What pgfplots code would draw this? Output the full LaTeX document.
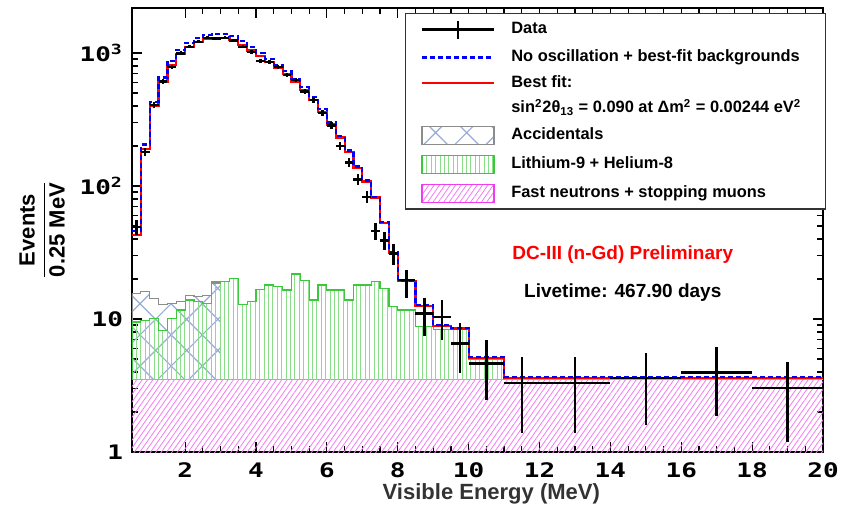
\documentclass[border=0pt]{standalone}
\usepackage{fontspec}
\setmainfont{Liberation Sans}
\newfontfamily\tickfont[FakeStretch=1.3]{DejaVu Sans Mono}
\usepackage{amsmath}
\usepackage{pgfplots}
\pgfplotsset{compat=1.18}
\usepackage{pgfplotstable}
\usetikzlibrary{patterns.meta}

\definecolor{hblue}{RGB}{0,0,255}
\definecolor{hred}{RGB}{255,0,0}
\definecolor{ligreen}{RGB}{60,200,60}
\definecolor{fnmag}{RGB}{240,60,240}
\definecolor{fnlight}{RGB}{245,120,245}
\definecolor{accblue}{RGB}{150,172,215}
\definecolor{accgray}{RGB}{140,140,140}

\tikzset{
  fnpat/.style={pattern={Lines[angle=55,distance=2.2pt,line width=0.4pt]}, pattern color=fnlight},
  lipat/.style={pattern={Lines[angle=90,distance=2.2pt,line width=0.4pt]}, pattern color=ligreen!60},
  accpat/.style={pattern={Hatch[angle=45,distance=11pt,line width=0.6pt]}, pattern color=accblue},
}

% data: bin centre, value, half bin width, error up, error down
\pgfplotstableread{
x y ex eyp eym
0.625 49 0.125 6.5 6.5
0.875 181 0.125 13 13
1.125 406 0.125 20 20
1.375 609 0.125 25 25
1.625 789 0.125 28 28
1.875 995 0.125 32 32
2.125 1115 0.125 33 33
2.375 1216 0.125 35 35
2.625 1300 0.125 36 36
2.875 1290 0.125 36 36
3.125 1300 0.125 36 36
3.375 1238 0.125 35 35
3.625 1115 0.125 33 33
3.875 1023 0.125 32 32
4.125 871 0.125 30 30
4.375 860 0.125 29 29
4.625 789 0.125 28 28
4.875 683 0.125 26 26
5.125 626 0.125 25 25
5.375 512 0.125 23 23
5.625 443 0.125 21 21
5.875 354 0.125 19 19
6.125 285 0.125 17 17
6.375 200 0.125 14 14
6.625 150 0.125 12 12
6.875 112 0.125 11 11
7.125 83 0.125 9 9
7.375 46 0.125 7 7
7.625 39 0.125 6 6
7.875 31 0.125 5.5 5.5
8.25 19.7 0.25 3.7 5.4
8.75 11.0 0.25 3.3 3.6
9.25 10.4 0.25 3.5 3.45
9.75 6.56 0.25 2.7 2.66
10.5 4.64 0.5 2.3 2.2
11.5 3.3 0.5 1.85 1.9
13 3.3 1.0 1.85 1.9
15 3.6 1.0 2.0 2.0
17 3.95 1.0 2.2 2.1
19 3.03 1.0 1.75 1.85
}\datatab

% histograms: left bin edge, value (last point closes the last bin)
\pgfplotstableread{
x y
0.5 43
0.75 190
1.0 398
1.25 610
1.5 810
1.75 985
2.0 1110
2.25 1210
2.5 1275
2.75 1300
3.0 1295
3.25 1250
3.5 1150
3.75 1045
4.0 945
4.25 855
4.5 775
4.75 695
5.0 610
5.25 528
5.5 445
5.75 362
6.0 290
6.25 232
6.5 180
6.75 137
7.0 108
7.25 82
7.5 53
7.75 31.5
8.0 19.3
8.5 12.6
9.0 8.9
9.5 8.5
10.0 5.1
11.0 3.6
20.0 3.6
}\besttab

\pgfplotstableread{
x y
0.5 46
0.75 205
1.0 428
1.25 655
1.5 870
1.75 1058
2.0 1192
2.25 1298
2.5 1365
2.75 1390
3.0 1385
3.25 1335
3.5 1225
3.75 1110
4.0 1002
4.25 904
4.5 818
4.75 732
5.0 640
5.25 553
5.5 465
5.75 377
6.0 300
6.25 239
6.5 185
6.75 140
7.0 110
7.25 83
7.5 53.5
7.75 31.8
8.0 19.5
8.5 12.8
9.0 9.0
9.5 8.6
10.0 5.2
11.0 3.65
20.0 3.65
}\noosctab

\pgfplotstableread{
x y
0.5 3.5
0.5 9.5
0.75 9.8
1.0 10.1
1.25 8.2
1.5 10.1
1.75 11.7
2.0 13.9
2.25 13.5
2.5 13.1
2.75 18.6
3.0 19.1
3.25 20.2
3.5 12.8
3.75 13.5
4.0 16.7
4.25 18.0
4.5 17.5
4.75 16.5
5.0 21.8
5.25 19.6
5.5 13.9
5.75 18.0
6.0 16.5
6.25 16.5
6.5 13.9
6.75 18.0
7.0 18.0
7.25 19.1
7.5 17.0
7.75 12.4
8.0 11.7
8.25 11.7
8.5 8.8
8.75 8.8
9.0 8.3
9.25 8.3
9.5 8.3
9.75 8.3
10.0 5.0
11.0 5.0
11.0 3.5
}\litab

\pgfplotstableread{
x y
0.5 3.5
0.5 15.6
0.75 16.0
1.0 14.3
1.25 12.8
1.5 13.0
1.75 13.5
2.0 15.1
2.25 14.8
2.5 15.1
2.75 19.0
3.0 19.0
3.0 3.5
}\acctab

\begin{document}
\begin{tikzpicture}
\begin{axis}[
  scale only axis,
  width=345.5pt, height=222pt,
  ymode=log,
  xmin=0.5, xmax=20, ymin=1, ymax=2180,
  axis line style={black, line width=0.8pt},
  tick style={black, line width=0.6pt},
  major tick length=5pt, minor tick length=3pt,
  tick align=inside,
  xtick pos=both, ytick pos=both,
  xtick={2,4,6,8,10,12,14,16,18,20},
  xticklabels={2,4,6,8,10,12,14,16,18,20},
  minor x tick num=3,
  ytick={1,10,100,1000},
  yticklabels={1,10,10\textsuperscript{2},10\textsuperscript{3}},
  xticklabel style={font=\tickfont\bfseries\fontsize{10}{12}\selectfont, yshift=-2pt},
  yticklabel style={font=\tickfont\bfseries\fontsize{10}{12}\selectfont, xshift=-1pt},
  xlabel={Visible Energy (MeV)},
  xlabel style={at={(rel axis cs:0.52,-0.0946)}, anchor=center, font=\bfseries\fontsize{11}{13}\selectfont, text=black!80},
  ylabel={$\displaystyle\frac{\mbox{\bfseries Events}}{\mbox{\bfseries 0.25 MeV}}$},
  ylabel style={at={(rel axis cs:-0.13,0.5)}, anchor=center, font=\fontsize{11}{13}\selectfont},
  legend cell align=left,
  legend style={at={(rel axis cs:0.395,0.989)}, anchor=north west,
    draw=black!80, line width=0.6pt, fill=white,
    font=\bfseries\fontsize{8.2}{9.5}\selectfont,
    inner xsep=7.5pt, inner ysep=3pt, row sep=4.8pt, column sep=8pt,
    nodes={inner sep=0pt, text height=6pt, text depth=2pt}},
]
\addlegendimage{legend image code/.code={
  \draw[black,line width=1.2pt] (0pt,0pt)--(36pt,0pt);
  \draw[black,line width=1.2pt] (18pt,-4.5pt)--(18pt,4.5pt);}}
\addlegendentry{Data}
\addlegendimage{legend image code/.code={
  \draw[hblue,line width=1.2pt,dash pattern=on 2.5pt off 1.5pt] (0pt,0pt)--(36pt,0pt);}}
\addlegendentry{No oscillation + best-fit backgrounds\hspace*{5.5pt}}
\addlegendimage{legend image code/.code={
  \draw[hred,line width=1.4pt] (0pt,0pt)--(36pt,0pt);}}
\addlegendentry{Best fit:}
\addlegendimage{empty legend}
\addlegendentry{sin\textsuperscript{2}2θ\textsubscript{13} = 0.090 at Δm\textsuperscript{2} = 0.00244 eV\textsuperscript{2}}
\addlegendimage{legend image code/.code={
  \draw[accpat, draw=accgray, line width=0.6pt] (0pt,-4.5pt) rectangle (36pt,4.5pt);}}
\addlegendentry{Accidentals}
\addlegendimage{legend image code/.code={
  \draw[lipat, draw=ligreen, line width=0.6pt] (0pt,-4.5pt) rectangle (36pt,4.5pt);}}
\addlegendentry{Lithium-9 + Helium-8}
\addlegendimage{legend image code/.code={
  \draw[fnpat, draw=fnmag, line width=0.6pt] (0pt,-4.5pt) rectangle (36pt,4.5pt);}}
\addlegendentry{Fast neutrons + stopping muons}

% fast neutrons + stopping muons
\addplot[forget plot, draw=none, fnpat] coordinates {(0.5,1) (0.5,3.5) (20,3.5) (20,1)} -- cycle;
\addplot[forget plot, fnlight, line width=0.6pt] coordinates {(0.5,3.5) (20,3.5)};
% accidentals
\addplot[forget plot, const plot, draw=none, accpat] table {\acctab} -- cycle;
\addplot[forget plot, const plot, accgray, line width=0.6pt] table {\acctab};
% lithium-9 + helium-8
\addplot[forget plot, const plot, draw=none, lipat] table {\litab} -- cycle;
\addplot[forget plot, const plot, ligreen, line width=0.6pt] table {\litab};
% best fit and no oscillation
\addplot[forget plot, const plot, hred, line width=1.1pt] table {\besttab};
\addplot[forget plot, const plot, hblue, line width=1.1pt, dash pattern=on 2.5pt off 1.5pt] table {\noosctab};
% data
\addplot[forget plot, draw=none, mark=none,
  error bars/.cd, x dir=both, x explicit, y dir=both, y explicit,
  error mark=none, error bar style={draw=black, line width=1.2pt, solid}]
  table[x=x, y=y, x error=ex, y error plus=eyp, y error minus=eym] {\datatab};

\node[font=\bfseries\fontsize{9.5}{11}\selectfont, text=hred] at (axis cs:14.35,30.3) {DC-III (n-Gd) Preliminary};
\node[font=\bfseries\fontsize{9.5}{11}\selectfont, text=black] at (axis cs:14.35,15.7) {Livetime: 467.90 days};
\end{axis}
\pgfresetboundingbox
\path[use as bounding box] ([xshift=-66pt,yshift=-27pt]current axis.south west) rectangle ([xshift=11pt,yshift=4pt]current axis.north east);
\end{tikzpicture}
\end{document}
